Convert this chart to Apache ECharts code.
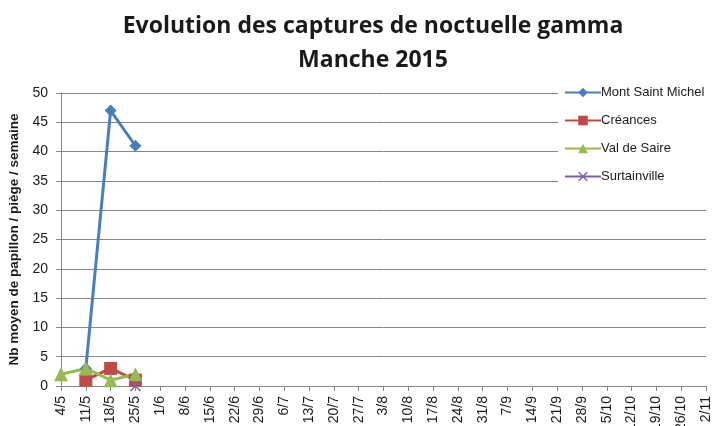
<!DOCTYPE html>
<html>
<head>
<meta charset="utf-8">
<script src="https://cdn.jsdelivr.net/npm/echarts@6/dist/echarts.min.js"></script>
<style>
  html, body { margin: 0; padding: 0; background: #fff; }
  #chart { width: 713px; height: 426px; }
</style>
</head>
<body>
<div id="chart"></div>
<script>
const weeks = ['4/5', '11/5', '18/5', '25/5', '1/6', '8/6', '15/6', '22/6', '29/6',
  '6/7', '13/7', '20/7', '27/7', '3/8', '10/8', '17/8', '24/8', '31/8', '7/9',
  '14/9', '21/9', '28/9', '5/10', '12/10', '19/10', '26/10', '2/11'];
const montSaintMichel = [null, 3, 47, 41];
const creances = [null, 1, 3, 1];
const valDeSaire = [2, 3, 1, 2];
const surtainville = [null, null, null, 0];
const yTicks = [0, 50, 5];

const font = 'Liberation Sans, Arial, sans-serif';
const cross = 'path://M0,1L1,0L5,4L9,0L10,1L6,5L10,9L9,10L5,6L1,10L0,9L4,5Z';
const chart = echarts.init(document.getElementById('chart'));

const line = (name, data, color, symbol, size) => ({
  name,
  type: 'line',
  data,
  symbol,
  symbolSize: size,
  lineStyle: { color, width: 3 },
  itemStyle: { color },
});

chart.setOption({
  animation: false,
  title: {
    text: 'Evolution des captures de noctuelle gamma\nManche 2015',
    left: 368,
    textAlign: 'center',
    top: 4,
    textStyle: {
      fontFamily: 'Open Sans, sans-serif',
      fontSize: 23,
      fontWeight: 'bold',
      color: '#1a1a1a',
      lineHeight: 34,
    },
  },
  legend: {
    orient: 'vertical',
    left: 558,
    top: 86,
    itemGap: 15,
    itemWidth: 36,
    itemHeight: 12,
    padding: [0, 30, 0, 6],
    backgroundColor: '#fff',
    textStyle: { fontFamily: font, fontSize: 13, color: '#1a1a1a', padding: [0, 0, 0, -5] },
    data: ['Mont Saint Michel', 'Créances', 'Val de Saire', 'Surtainville'],
  },
  grid: { left: 61, right: 7, top: 93, bottom: 40, outerBoundsMode: 'none' },
  xAxis: {
    type: 'category',
    data: weeks,
    boundaryGap: false,
    axisLine: { lineStyle: { color: '#868686' } },
    axisTick: { alignWithLabel: true, length: 5, lineStyle: { color: '#868686' } },
    axisLabel: {
      rotate: 90,
      interval: 0,
      margin: 10,
      fontFamily: font,
      fontSize: 14,
      color: '#1a1a1a',
    },
  },
  yAxis: {
    type: 'value',
    min: yTicks[0],
    max: yTicks[1],
    interval: yTicks[2],
    name: 'Nb moyen de papillon / piège / semaine',
    nameLocation: 'middle',
    nameGap: 37,
    nameTextStyle: { fontFamily: font, fontSize: 13.5, fontWeight: 'bold', color: '#1a1a1a' },
    axisLine: { show: true, lineStyle: { color: '#868686' } },
    axisTick: { show: true, length: 5, lineStyle: { color: '#868686' } },
    splitLine: { lineStyle: { color: '#868686' } },
    axisLabel: { fontFamily: font, fontSize: 14, color: '#1a1a1a', margin: 13 },
  },
  series: [
    line('Mont Saint Michel', montSaintMichel, '#4a7ebb', 'diamond', 12),
    line('Créances', creances, '#be4b48', 'rect', 13),
    line('Val de Saire', valDeSaire, '#98b954', 'triangle', 14),
    line('Surtainville', surtainville, '#7d60a0', cross, 11),
  ],
});
</script>
</body>
</html>
